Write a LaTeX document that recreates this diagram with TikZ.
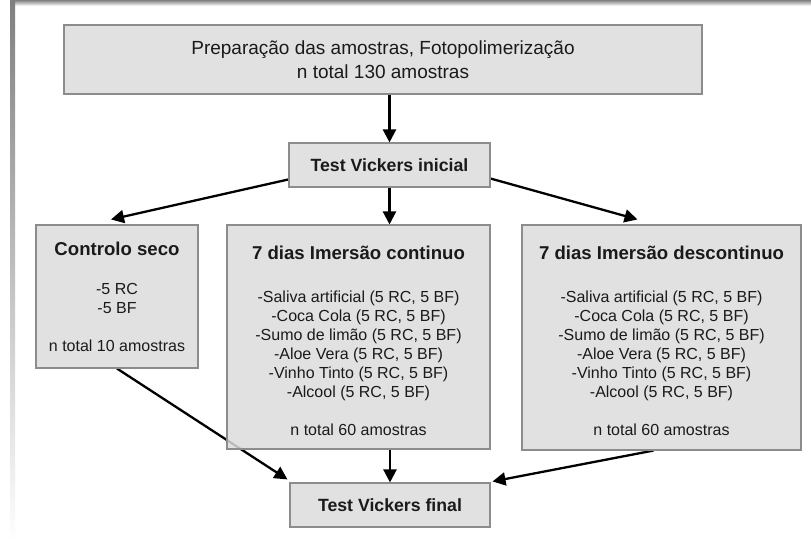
\documentclass[tikz,border=0pt]{standalone}
\usepackage{fontspec}
\setmainfont{Liberation Sans}
\usetikzlibrary{arrows.meta,calc,backgrounds}
\definecolor{boxfill}{HTML}{DCDCDC}
\definecolor{boxline}{HTML}{8C8C8C}
\definecolor{txt}{HTML}{1A1A1A}
\definecolor{shade}{HTML}{E8E8E8}
\begin{document}
\begin{tikzpicture}[x=1pt,y=-1pt,
  box/.style={draw=boxline,line width=1.1pt,fill=boxfill,fill opacity=0.85,text opacity=1,text=txt,inner sep=0pt,align=center},
  body/.style={font=\fontsize{16}{19}\selectfont},
  arr/.style={-{Triangle[length=13pt,width=13pt]},line width=2.3pt,black}]
\useasboundingbox (0,0) rectangle (811,543);

\node[box,minimum width=638pt,minimum height=69pt,font=\fontsize{19}{24}\selectfont] (prep) at (383,59.5)
  {Preparação das amostras, Fotopolimerização\\n total 130 amostras};
\node[box,minimum width=201pt,minimum height=44pt,font=\fontsize{17.7}{20}\selectfont\bfseries] (tvi) at (389.5,165)
  {Test Vickers inicial};
\node[box,body,minimum width=162pt,minimum height=143pt] (cs) at (117,296.5)
  {{\fontsize{18.6}{19}\selectfont\bfseries Controlo seco}\\[20pt]
   -5 RC\\ -5 BF\\[19pt] n total 10 amostras};
\node[box,body,minimum width=263pt,minimum height=224pt] (cont) at (358.5,337)
  {\rule{0pt}{21pt}{\fontsize{18.6}{19}\selectfont\bfseries 7 dias Imersão continuo}\\[24pt]
   -Saliva artificial (5 RC, 5 BF)\\
   -Coca Cola (5 RC, 5 BF)\\
   -Sumo de limão (5 RC, 5 BF)\\
   -Aloe Vera (5 RC, 5 BF)\\
   -Vinho Tinto (5 RC, 5 BF)\\
   -Alcool (5 RC, 5 BF)\\[19pt]
   n total 60 amostras};
\node[box,body,minimum width=279pt,minimum height=225pt] (desc) at (661.5,337.5)
  {\rule{0pt}{21pt}{\fontsize{18.6}{19}\selectfont\bfseries 7 dias Imersão descontinuo}\\[24pt]
   -Saliva artificial (5 RC, 5 BF)\\
   -Coca Cola (5 RC, 5 BF)\\
   -Sumo de limão (5 RC, 5 BF)\\
   -Aloe Vera (5 RC, 5 BF)\\
   -Vinho Tinto (5 RC, 5 BF)\\
   -Alcool (5 RC, 5 BF)\\[19pt]
   n total 60 amostras};
\node[box,minimum width=200pt,minimum height=44pt,font=\fontsize{17.7}{20}\selectfont\bfseries] (tvf) at (390,505)
  {Test Vickers final};

\begin{scope}[on background layer]
\fill[white] (0,0) rectangle (811,543);
\fill[shade] (10,0) rectangle (811,6);
\fill[shade] (10,0) rectangle (15,543);
\draw[arr] (prep.south -| tvi.north) -- (tvi.north);
\draw[arr] ($(tvi.south west)!0.18!(tvi.north west)$) -- ($(cs.north)+(-6,-5)$);
\draw[arr] (tvi.south) -- (tvi.south |- cont.north);
\draw[arr] ($(tvi.south east)!0.2!(tvi.north east)$) -- ($(desc.north)+(-24,-5)$);
\draw[arr] (cs.south) -- ($(tvf.north west)+(-2,-3)$);
\draw[arr] (tvf.north |- cont.south) -- (tvf.north);
\draw[arr] ($(desc.south)+(-8,0)$) -- ($(tvf.north east)+(2,-1)$);
\end{scope}
\end{tikzpicture}
\end{document}
